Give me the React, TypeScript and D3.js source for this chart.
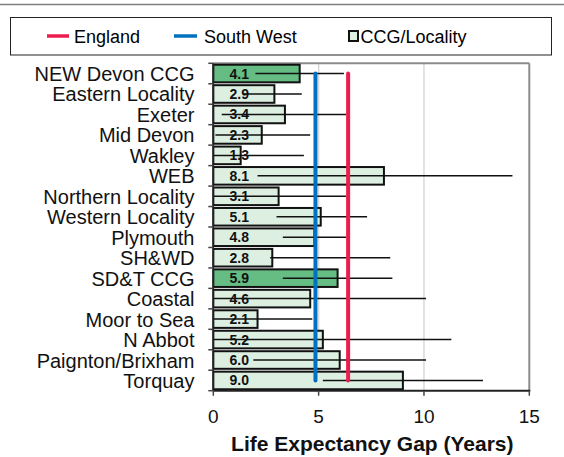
import React from "react";
import * as d3 from "d3";

const categories = [
  "NEW Devon CCG", "Eastern Locality", "Exeter", "Mid Devon", "Wakley", "WEB",
  "Northern Locality", "Western Locality", "Plymouth", "SH&WD", "SD&T CCG",
  "Coastal", "Moor to Sea", "N Abbot", "Paignton/Brixham", "Torquay",
];
const values = [4.1, 2.9, 3.4, 2.3, 1.3, 8.1, 3.1, 5.1, 4.8, 2.8, 5.9, 4.6, 2.1, 5.2, 6.0, 9.0];
const lower = [2.0, 1.4, 0.4, 0.1, 0.0, 2.1, 0.0, 3.0, 3.3, 2.7, 3.3, 0.0, 0.0, 0.0, 1.9, 5.2];
const upper = [6.2, 4.2, 6.3, 4.6, 4.3, 14.2, 6.3, 7.3, 6.3, 8.4, 8.5, 10.1, 4.7, 11.3, 10.1, 12.8];
const isCCG = [true, false, false, false, false, false, false, false, false, false, true, false, false, false, false, false];
const englandValue = 6.4;
const southWestValue = 4.85;
const xTicks = [0, 5, 10, 15];
const legendLabels = ["England", "South West", "CCG/Locality"];

const W = 564, H = 457;
const left = 213.3, right = 529.3, top = 63.3, bottom = 390.7;
const RED = "#EC1C4E";
const BLUE = "#0070C0";
const DARK = "#66BD84";
const LIGHT = "#DCEFE1";
const FONT = "Liberation Sans, Arial, sans-serif";

export default function App() {
  const x = d3.scaleLinear().domain([0, 15]).range([left, right]);
  const y = d3.scaleBand<string>().domain(categories).range([top, bottom]).paddingInner(0.14).paddingOuter(0.07);
  const band = (bottom - top) / categories.length;
  const yc = (c: string) => (y(c) as number) + y.bandwidth() / 2;
  const yFirst = yc(categories[0]);
  const yLast = yc(categories[categories.length - 1]);

  return (
    <svg width={W} height={H} style={{ position: "absolute", left: 0, top: 0, background: "#fff" }} fontFamily={FONT}>
      {/* top separator */}
      <line x1={0} x2={W} y1={4.5} y2={4.5} stroke="#808080" strokeWidth={1.5} />
      {/* legend */}
      <rect x={10.5} y={17.5} width={541} height={37.5} fill="#fff" stroke="#222" strokeWidth={1} />
      <line x1={47} x2={69} y1={36} y2={36} stroke={RED} strokeWidth={3.5} />
      <text x={74} y={42.5} fontSize={18}>{legendLabels[0]}</text>
      <line x1={174} x2={197} y1={36} y2={36} stroke={BLUE} strokeWidth={3.5} />
      <text x={204} y={42.5} fontSize={18}>{legendLabels[1]}</text>
      <rect x={349} y={31} width={9} height={10} fill={LIGHT} stroke="#111" strokeWidth={2} />
      <text x={360.5} y={42.5} fontSize={18}>{legendLabels[2]}</text>

      {/* gridlines */}
      {xTicks.filter((t) => t > 0 && t < 15).map((t) => (
        <line key={t} x1={x(t)} x2={x(t)} y1={top} y2={bottom} stroke="#d9d9d9" strokeWidth={1.5} />
      ))}
      {/* plot frame */}
      <line x1={left} x2={right} y1={top} y2={top} stroke="#8c8c8c" strokeWidth={2} />
      <line x1={right} x2={right} y1={top} y2={bottom} stroke="#8c8c8c" strokeWidth={2} />

      {/* bars */}
      {categories.map((c, i) => (
        <rect key={c} x={x(0)} y={y(c)} width={x(values[i]) - x(0)} height={y.bandwidth()}
          fill={isCCG[i] ? DARK : LIGHT} stroke="#111" strokeWidth={2} />
      ))}
      {/* error bars */}
      {categories.map((c, i) => (
        <line key={c} x1={x(lower[i])} x2={x(upper[i])} y1={yc(c)} y2={yc(c)} stroke="#111" strokeWidth={1.5} />
      ))}
      {/* value labels */}
      {categories.map((c, i) => (
        <text key={c} x={x(0) + 26} y={yc(c) + 5} fontSize={14} fontWeight="bold" textAnchor="middle" fill="#111">
          {d3.format(".1f")(values[i])}
        </text>
      ))}

      {/* reference lines */}
      <line x1={x(southWestValue)} x2={x(southWestValue)} y1={yFirst} y2={yLast} stroke={BLUE} strokeWidth={4} strokeLinecap="round" />
      <line x1={x(englandValue)} x2={x(englandValue)} y1={yFirst} y2={yLast} stroke={RED} strokeWidth={4} strokeLinecap="round" />

      {/* axes */}
      <line x1={left} x2={left} y1={top} y2={bottom} stroke="#222" strokeWidth={1.5} />
      <line x1={left} x2={right + 1} y1={bottom} y2={bottom} stroke="#222" strokeWidth={2} />
      {d3.range(categories.length + 1).map((k) => (
        <line key={k} x1={left - 5} x2={left} y1={top + k * band} y2={top + k * band} stroke="#444" strokeWidth={1.5} />
      ))}
      {xTicks.map((t) => (
        <g key={t}>
          <line x1={x(t)} x2={x(t)} y1={bottom} y2={bottom + 5} stroke="#444" strokeWidth={1.5} />
          <text x={x(t)} y={423} fontSize={19} textAnchor="middle" fill="#111">{t}</text>
        </g>
      ))}
      {categories.map((c) => (
        <text key={c} x={194.5} y={yc(c) + 7.5} fontSize={20} textAnchor="end" fill="#111">{c}</text>
      ))}
      <text x={(left + right) / 2 + 1} y={451} fontSize={21} fontWeight="bold" textAnchor="middle" fill="#111">
        Life Expectancy Gap (Years)
      </text>
    </svg>
  );
}
